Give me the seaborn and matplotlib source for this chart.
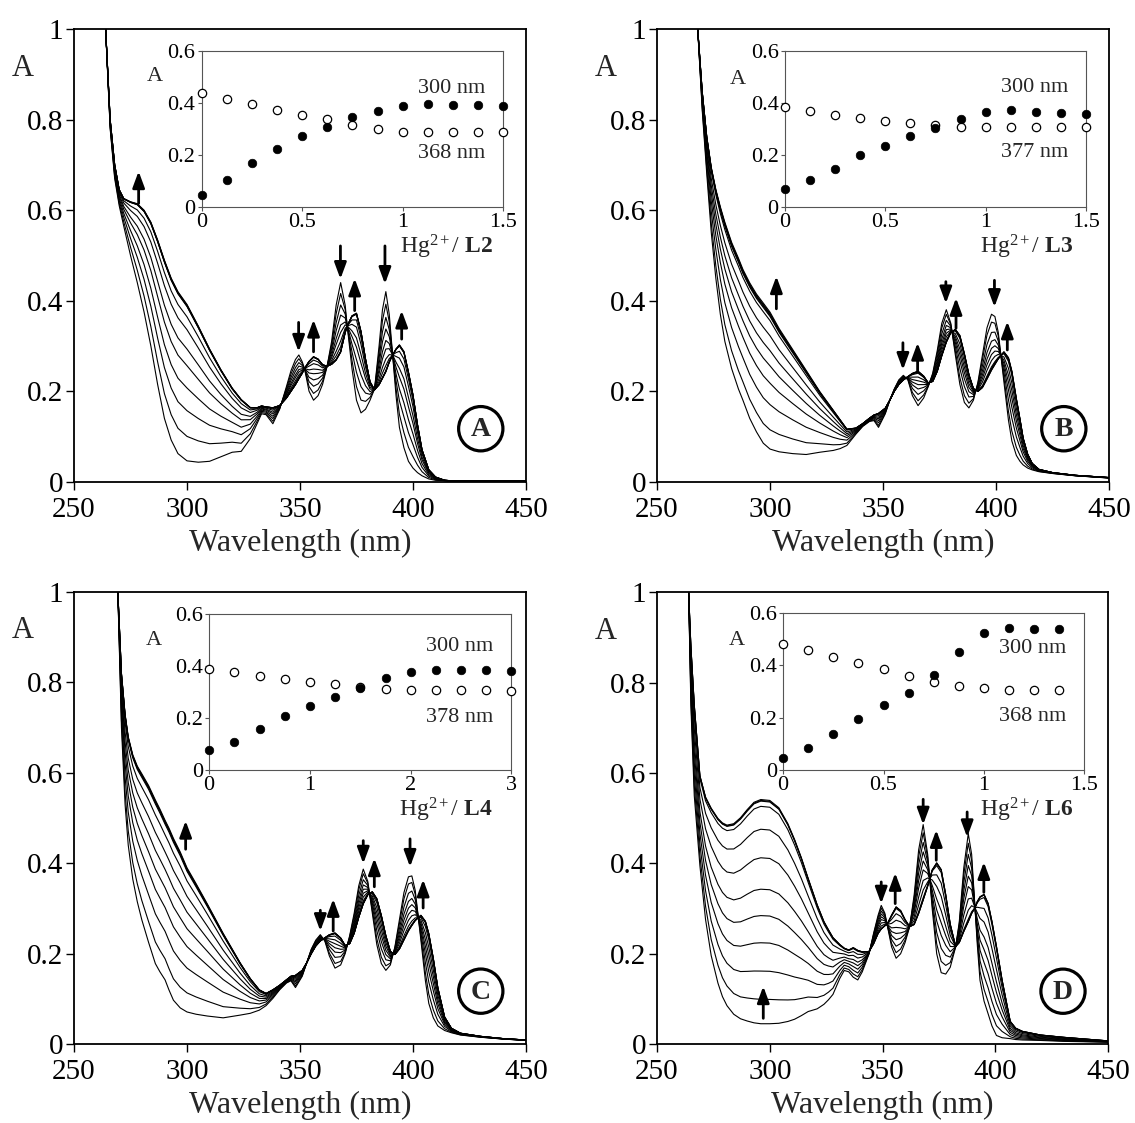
import numpy as np
import pandas as pd
import matplotlib
matplotlib.use("Agg")
import matplotlib.pyplot as plt
from matplotlib.patches import Circle
import seaborn as sns

# ---------------- data ----------------
# Panel A (L2): spectra of free ligand and of final complex
wl_A = [262, 264, 266, 268, 270, 272, 275, 278, 281, 284, 287, 290, 293, 296, 300, 305, 310, 315, 320, 324,
        328, 331, 333, 335, 338, 341, 344, 346, 348, 349.5, 351, 352, 354, 356, 358, 360, 362, 364, 366, 368,
        370, 371, 373, 375, 377, 379, 381, 383, 385, 386.5, 388, 389.5, 391, 392.5, 394, 396, 398, 400, 402, 404,
        407, 410, 414, 420, 450]
free_A = [1.25, 1.0, 0.78, 0.67, 0.61, 0.565, 0.50, 0.44, 0.375, 0.30, 0.215, 0.14, 0.092, 0.062, 0.046, 0.043, 0.045, 0.055, 0.065, 0.067,
          0.095, 0.128, 0.15, 0.148, 0.128, 0.16, 0.21, 0.245, 0.27, 0.28, 0.265, 0.25, 0.20, 0.18, 0.19, 0.215, 0.255, 0.31, 0.39, 0.44,
          0.39, 0.34, 0.25, 0.18, 0.152, 0.16, 0.18, 0.205, 0.30, 0.38, 0.42, 0.37, 0.28, 0.19, 0.12, 0.075, 0.045, 0.03, 0.02, 0.013,
          0.006, 0.003, 0.002, 0.001, 0.001]
cplx_A = [1.25, 1.0, 0.80, 0.70, 0.645, 0.625, 0.617, 0.612, 0.597, 0.57, 0.53, 0.485, 0.445, 0.415, 0.387, 0.34, 0.29, 0.245, 0.205, 0.18,
          0.163, 0.163, 0.167, 0.165, 0.163, 0.168, 0.185, 0.20, 0.215, 0.228, 0.24, 0.25, 0.265, 0.275, 0.27, 0.258, 0.255, 0.26, 0.27, 0.288,
          0.33, 0.345, 0.365, 0.37, 0.33, 0.27, 0.22, 0.203, 0.215, 0.23, 0.245, 0.265, 0.28, 0.292, 0.30, 0.285, 0.24, 0.19, 0.125, 0.07,
          0.026, 0.01, 0.003, 0.001, 0.001]

# Panel B (L3)
wl_B = [266, 268, 270, 272, 274, 276, 278, 280, 283, 286, 288, 291, 294, 297, 300, 304, 310, 316, 322, 328,
        331, 334, 338, 341, 344, 346, 348, 351, 353, 355, 357, 359, 361, 363, 365.5, 368, 370, 372, 374, 376,
        378, 380, 382, 384, 386, 388, 390, 392, 394, 396, 398, 399.5, 401, 403.5, 405.5, 407, 409, 410.6, 412, 414,
        416, 419, 425, 435, 450]
free_B = [1.3, 1.0, 0.82, 0.68, 0.55, 0.45, 0.37, 0.31, 0.25, 0.205, 0.18, 0.14, 0.11, 0.085, 0.072, 0.066, 0.062, 0.06, 0.065, 0.069,
          0.073, 0.08, 0.105, 0.122, 0.133, 0.135, 0.12, 0.15, 0.18, 0.205, 0.225, 0.235, 0.225, 0.19, 0.168, 0.185, 0.21, 0.24, 0.29, 0.35,
          0.38, 0.35, 0.28, 0.215, 0.175, 0.163, 0.18, 0.22, 0.28, 0.34, 0.37, 0.365, 0.33, 0.22, 0.136, 0.09, 0.058, 0.045, 0.037, 0.03,
          0.026, 0.022, 0.018, 0.013, 0.008]
cplx_B = [1.3, 1.0, 0.86, 0.76, 0.69, 0.64, 0.60, 0.565, 0.52, 0.485, 0.46, 0.43, 0.405, 0.385, 0.365, 0.33, 0.285, 0.24, 0.195, 0.155,
          0.135, 0.115, 0.118, 0.128, 0.14, 0.147, 0.15, 0.162, 0.18, 0.20, 0.215, 0.225, 0.232, 0.238, 0.242, 0.232, 0.218, 0.222, 0.245, 0.28,
          0.31, 0.33, 0.335, 0.32, 0.28, 0.235, 0.205, 0.20, 0.21, 0.23, 0.25, 0.262, 0.273, 0.285, 0.27, 0.24, 0.18, 0.136, 0.095, 0.06,
          0.04, 0.027, 0.02, 0.014, 0.009]

# Panel C (L4)
wl_C = [267, 269.4, 271, 272.6, 274, 276, 278, 280, 283, 286, 288, 290.3, 292, 294, 297, 300, 304, 309, 316, 323.5,
        328, 332, 335, 338, 341, 344, 346, 348, 351, 353, 355, 357, 359, 361, 363, 365.5, 368, 370, 372, 374,
        376, 378, 380, 382, 384, 386, 388, 390, 392, 394, 396, 398, 399.5, 401, 403.5, 405.5, 407, 409, 411, 414,
        417, 421, 430, 440, 450]
free_C = [1.3, 1.0, 0.70, 0.53, 0.44, 0.365, 0.315, 0.275, 0.225, 0.178, 0.16, 0.142, 0.12, 0.097, 0.08, 0.071, 0.066, 0.062, 0.058, 0.064,
          0.068, 0.075, 0.085, 0.101, 0.12, 0.135, 0.14, 0.125, 0.15, 0.18, 0.21, 0.23, 0.242, 0.228, 0.195, 0.168, 0.175, 0.20, 0.24, 0.29,
          0.35, 0.387, 0.36, 0.29, 0.22, 0.178, 0.163, 0.175, 0.215, 0.275, 0.335, 0.37, 0.372, 0.34, 0.23, 0.14, 0.09, 0.058, 0.04, 0.03,
          0.025, 0.02, 0.015, 0.011, 0.008]
cplx_C = [1.3, 1.0, 0.82, 0.73, 0.68, 0.64, 0.615, 0.598, 0.572, 0.54, 0.52, 0.495, 0.478, 0.455, 0.425, 0.39, 0.355, 0.31, 0.245, 0.18,
          0.145, 0.12, 0.112, 0.12, 0.13, 0.142, 0.15, 0.152, 0.163, 0.18, 0.20, 0.217, 0.228, 0.235, 0.242, 0.246, 0.235, 0.218, 0.222, 0.245,
          0.28, 0.31, 0.33, 0.337, 0.322, 0.285, 0.24, 0.205, 0.198, 0.21, 0.23, 0.25, 0.262, 0.273, 0.285, 0.272, 0.245, 0.19, 0.125, 0.06,
          0.035, 0.024, 0.017, 0.012, 0.009]

# Panel D (L6)
wl_D = [262, 264, 265, 266.5, 269, 271.5, 274, 277, 279, 281, 284, 287, 290, 293, 296, 300, 304, 308, 311, 314,
        317, 321, 324, 326, 328, 331, 333, 335, 337, 339, 341, 344, 346, 348, 349.4, 351, 352, 354, 356, 358,
        360, 362, 364, 366, 368, 370, 372, 374, 376, 378, 380, 382.4, 384, 386, 388, 389.5, 391, 392, 393.2, 395,
        396.8, 398.5, 400.5, 403, 406.6, 409, 412, 420, 430, 440, 450]
free_D = [1.3, 1.0, 0.75, 0.55, 0.395, 0.276, 0.196, 0.135, 0.105, 0.085, 0.066, 0.056, 0.051, 0.047, 0.045, 0.045, 0.046, 0.05, 0.055, 0.063,
          0.072, 0.078, 0.088, 0.098, 0.11, 0.145, 0.163, 0.16, 0.148, 0.142, 0.16, 0.20, 0.245, 0.285, 0.307, 0.29, 0.265, 0.215, 0.19, 0.20,
          0.225, 0.26, 0.33, 0.43, 0.486, 0.42, 0.30, 0.20, 0.158, 0.155, 0.17, 0.215, 0.27, 0.39, 0.466, 0.42, 0.30, 0.22, 0.141, 0.095,
          0.067, 0.04, 0.019, 0.014, 0.012, 0.01, 0.009, 0.008, 0.006, 0.005, 0.004]
cplx_D = [1.3, 1.0, 0.88, 0.75, 0.593, 0.545, 0.52, 0.497, 0.487, 0.482, 0.485, 0.498, 0.516, 0.532, 0.538, 0.536, 0.52, 0.485, 0.45, 0.41,
          0.365, 0.307, 0.27, 0.252, 0.235, 0.22, 0.212, 0.208, 0.213, 0.207, 0.204, 0.205, 0.222, 0.245, 0.255, 0.262, 0.265, 0.285, 0.303, 0.295,
          0.275, 0.26, 0.265, 0.29, 0.32, 0.35, 0.385, 0.40, 0.385, 0.33, 0.265, 0.216, 0.225, 0.25, 0.272, 0.29, 0.302, 0.315, 0.325, 0.33,
          0.31, 0.27, 0.215, 0.141, 0.05, 0.035, 0.028, 0.02, 0.015, 0.011, 0.007]

# Insets: titration curves (Hg2+/L ratio, absorbance at 300 nm (filled) and at band maximum (open))
eq_A = [0, 0.125, 0.25, 0.375, 0.5, 0.625, 0.75, 0.875, 1.0, 1.125, 1.25, 1.375, 1.5]
a300_A = [0.045, 0.101, 0.167, 0.222, 0.273, 0.308, 0.346, 0.369, 0.387, 0.394, 0.391, 0.391, 0.387]
amax_A = [0.438, 0.415, 0.394, 0.374, 0.353, 0.336, 0.315, 0.300, 0.287, 0.287, 0.287, 0.288, 0.288]
eq_B = [0, 0.125, 0.25, 0.375, 0.5, 0.625, 0.75, 0.875, 1.0, 1.125, 1.25, 1.375, 1.5]
a300_B = [0.068, 0.103, 0.145, 0.197, 0.235, 0.271, 0.302, 0.338, 0.366, 0.371, 0.365, 0.361, 0.356]
amax_B = [0.383, 0.370, 0.352, 0.341, 0.331, 0.323, 0.314, 0.306, 0.306, 0.305, 0.305, 0.306, 0.306]
eq_C = [0, 0.25, 0.5, 0.75, 1.0, 1.25, 1.5, 1.75, 2.0, 2.25, 2.5, 2.75, 3.0]
a300_C = [0.077, 0.110, 0.160, 0.207, 0.246, 0.283, 0.317, 0.353, 0.379, 0.386, 0.386, 0.386, 0.383]
amax_C = [0.389, 0.376, 0.361, 0.349, 0.339, 0.330, 0.321, 0.313, 0.309, 0.309, 0.309, 0.308, 0.306]
eq_D = [0, 0.125, 0.25, 0.375, 0.5, 0.625, 0.75, 0.875, 1.0, 1.125, 1.25, 1.375]
a300_D = [0.046, 0.084, 0.139, 0.197, 0.250, 0.294, 0.363, 0.450, 0.526, 0.545, 0.541, 0.538]
amax_D = [0.484, 0.459, 0.434, 0.410, 0.386, 0.360, 0.335, 0.321, 0.312, 0.308, 0.308, 0.308]

ligands = ["L2", "L3", "L4", "L6"]
band_labels = ["368 nm", "377 nm", "378 nm", "368 nm"]
panel_letters = ["A", "B", "C", "D"]
inset_xticks = [[0, 0.5, 1, 1.5], [0, 0.5, 1, 1.5], [0, 1, 2, 3], [0, 0.5, 1, 1.5]]
inset_xticklabels = [["0", "0.5", "1", "1.5"], ["0", "0.5", "1", "1.5"], ["0", "1", "2", "3"], ["0", "0.5", "1", "1.5"]]

# arrow annotations: (wavelength, tail absorbance, tip absorbance)
arrows_A = [(278.6, 0.615, 0.686), (349.4, 0.352, 0.287), (356.0, 0.287, 0.358), (367.9, 0.521, 0.448),
            (374.2, 0.378, 0.449), (387.6, 0.521, 0.437), (395.0, 0.315, 0.378)]
arrows_B = [(302.8, 0.382, 0.454), (358.8, 0.307, 0.247), (365.3, 0.243, 0.307), (377.8, 0.442, 0.394),
            (382.3, 0.339, 0.406), (399.3, 0.445, 0.386), (405.0, 0.291, 0.354)]
arrows_C = [(299.4, 0.431, 0.494), (359.0, 0.296, 0.250), (364.7, 0.250, 0.321), (378.0, 0.450, 0.399),
            (382.9, 0.348, 0.411), (398.7, 0.454, 0.392), (404.5, 0.301, 0.364)]
arrows_D = [(297.1, 0.057, 0.128), (349.4, 0.359, 0.311), (355.6, 0.311, 0.379), (368.0, 0.542, 0.486),
            (373.8, 0.407, 0.474), (387.5, 0.514, 0.458), (394.9, 0.336, 0.403)]

# ---------------- style ----------------
sns.set_theme(style="ticks")
plt.rcParams["font.family"] = ["Liberation Serif", "DejaVu Serif"]
plt.rcParams["mathtext.fontset"] = "custom"
plt.rcParams["mathtext.rm"] = "Liberation Serif"
plt.rcParams["mathtext.it"] = "Liberation Serif:italic"
plt.rcParams["mathtext.bf"] = "Liberation Serif:bold"

fig = plt.figure(figsize=(11.35, 11.23), dpi=100)

main_rects = [[0.0652, 0.5711, 0.3982, 0.4029], [0.5789, 0.5711, 0.3982, 0.4029],
              [0.0652, 0.0703, 0.3982, 0.4025], [0.5789, 0.0703, 0.3974, 0.4021]]
inset_rects = [[0.2825, 0.608, 0.667, 0.344], [0.283, 0.608, 0.666, 0.344],
               [0.299, 0.606, 0.669, 0.345], [0.2795, 0.607, 0.668, 0.347]]
label300_y = [0.756, 0.762, 0.79, 0.776]
labelband_y = [0.341, 0.345, 0.34, 0.341]
ins_A_pos = [(-0.155, 0.836), (-0.156, 0.814), (-0.182, 0.83), (-0.152, 0.827)]
ins_xlabel_x = [0.967, 0.959, 0.936, 0.964]

panels = [
    (wl_A, free_A, cplx_A, eq_A, a300_A, amax_A, arrows_A),
    (wl_B, free_B, cplx_B, eq_B, a300_B, amax_B, arrows_B),
    (wl_C, free_C, cplx_C, eq_C, a300_C, amax_C, arrows_C),
    (wl_D, free_D, cplx_D, eq_D, a300_D, amax_D, arrows_D),
]

for i, (wl, free, cplx, eq, a300, amax, arrows) in enumerate(panels):
    ax = fig.add_axes(main_rects[i])
    wl = np.asarray(wl, float)
    free = np.asarray(free, float)
    cplx = np.asarray(cplx, float)
    a300 = np.asarray(a300, float)
    amax = np.asarray(amax, float)
    # titration progress (both wavelengths)
    p1 = (a300 - a300[0]) / (a300[-1] - a300[0])
    p2 = (amax[0] - amax) / (amax[0] - amax[-1])
    prog = 0.5 * (p1 + p2)
    rows = []
    for k, f in enumerate(prog):
        spec = free + f * (cplx - free)
        rows.append(pd.DataFrame({"wl": wl, "A": spec, "step": k}))
    df = pd.concat(rows, ignore_index=True)
    sns.lineplot(data=df, x="wl", y="A", units="step", estimator=None, color="black",
                 linewidth=0.8, ax=ax, legend=False, sort=False)

    ax.set_xlim(250, 450)
    ax.set_ylim(0, 1)
    ax.set_xticks([250, 300, 350, 400, 450])
    ax.set_yticks([0, 0.2, 0.4, 0.6, 0.8, 1.0])
    ax.set_yticklabels(["0", "0.2", "0.4", "0.6", "0.8", "1"])
    ax.tick_params(direction="out", length=6, width=1.0, labelsize=21, colors="black")
    ax.tick_params(axis="x", pad=5)
    ax.tick_params(axis="y", pad=2)
    for sp in ax.spines.values():
        sp.set_visible(True)
        sp.set_color("black")
        sp.set_linewidth(1.3)
    ax.set_xlabel("Wavelength (nm)", fontsize=23, labelpad=4)
    ax.set_ylabel("")
    ax.text(-0.113, 0.914, "A", transform=ax.transAxes, fontsize=22, ha="center", va="center")

    for (x, tail, tip) in arrows:
        ax.annotate("", xy=(x, tip), xytext=(x, tail),
                    arrowprops=dict(arrowstyle="-|>,head_length=0.65,head_width=0.24", color="black",
                                    lw=2.0, shrinkA=0, shrinkB=0, mutation_scale=15))

    circ = Circle((0.9, 0.117), 0.049, transform=ax.transAxes, fill=False, ec="black", lw=2.3)
    ax.add_patch(circ)
    ax.text(0.9, 0.115, panel_letters[i], transform=ax.transAxes, fontsize=20, fontweight="bold",
            ha="center", va="center")

    # inset
    ins = ax.inset_axes(inset_rects[i])
    ins.set_facecolor("white")
    sns.scatterplot(x=eq, y=amax, ax=ins, marker="o", s=36, facecolor="white", edgecolor="black",
                    linewidth=0.9, zorder=3, clip_on=False)
    sns.scatterplot(x=eq, y=a300, ax=ins, marker="o", s=38, color="black", edgecolor="black",
                    linewidth=0.5, zorder=4, clip_on=False)
    ins.set_xlim(inset_xticks[i][0], inset_xticks[i][-1])
    ins.set_ylim(0, 0.6)
    ins.set_xticks(inset_xticks[i])
    ins.set_xticklabels(inset_xticklabels[i])
    ins.set_yticks([0, 0.2, 0.4, 0.6])
    ins.set_yticklabels(["0", "0.2", "0.4", "0.6"])
    ins.tick_params(direction="out", length=3, width=0.8, labelsize=16, pad=1.5, color="#555555",
                    labelcolor="black")
    for sp in ins.spines.values():
        sp.set_visible(True)
        sp.set_color("#555555")
        sp.set_linewidth(0.8)
    ins.set_xlabel("")
    ins.set_ylabel("")
    ins.text(ins_A_pos[i][0], ins_A_pos[i][1], "A", transform=ins.transAxes, fontsize=16,
             ha="center", va="center")
    ins.text(0.94, label300_y[i], "300 nm", transform=ins.transAxes, fontsize=16, ha="right", va="center")
    ins.text(0.94, labelband_y[i], band_labels[i], transform=ins.transAxes, fontsize=16, ha="right", va="center")
    ins.text(ins_xlabel_x[i], -0.30, r"Hg$^{2+}$/ $\mathbf{%s}$" % ligands[i], transform=ins.transAxes,
             fontsize=17, ha="right", va="baseline")

fig.savefig("out.png", dpi=100)
